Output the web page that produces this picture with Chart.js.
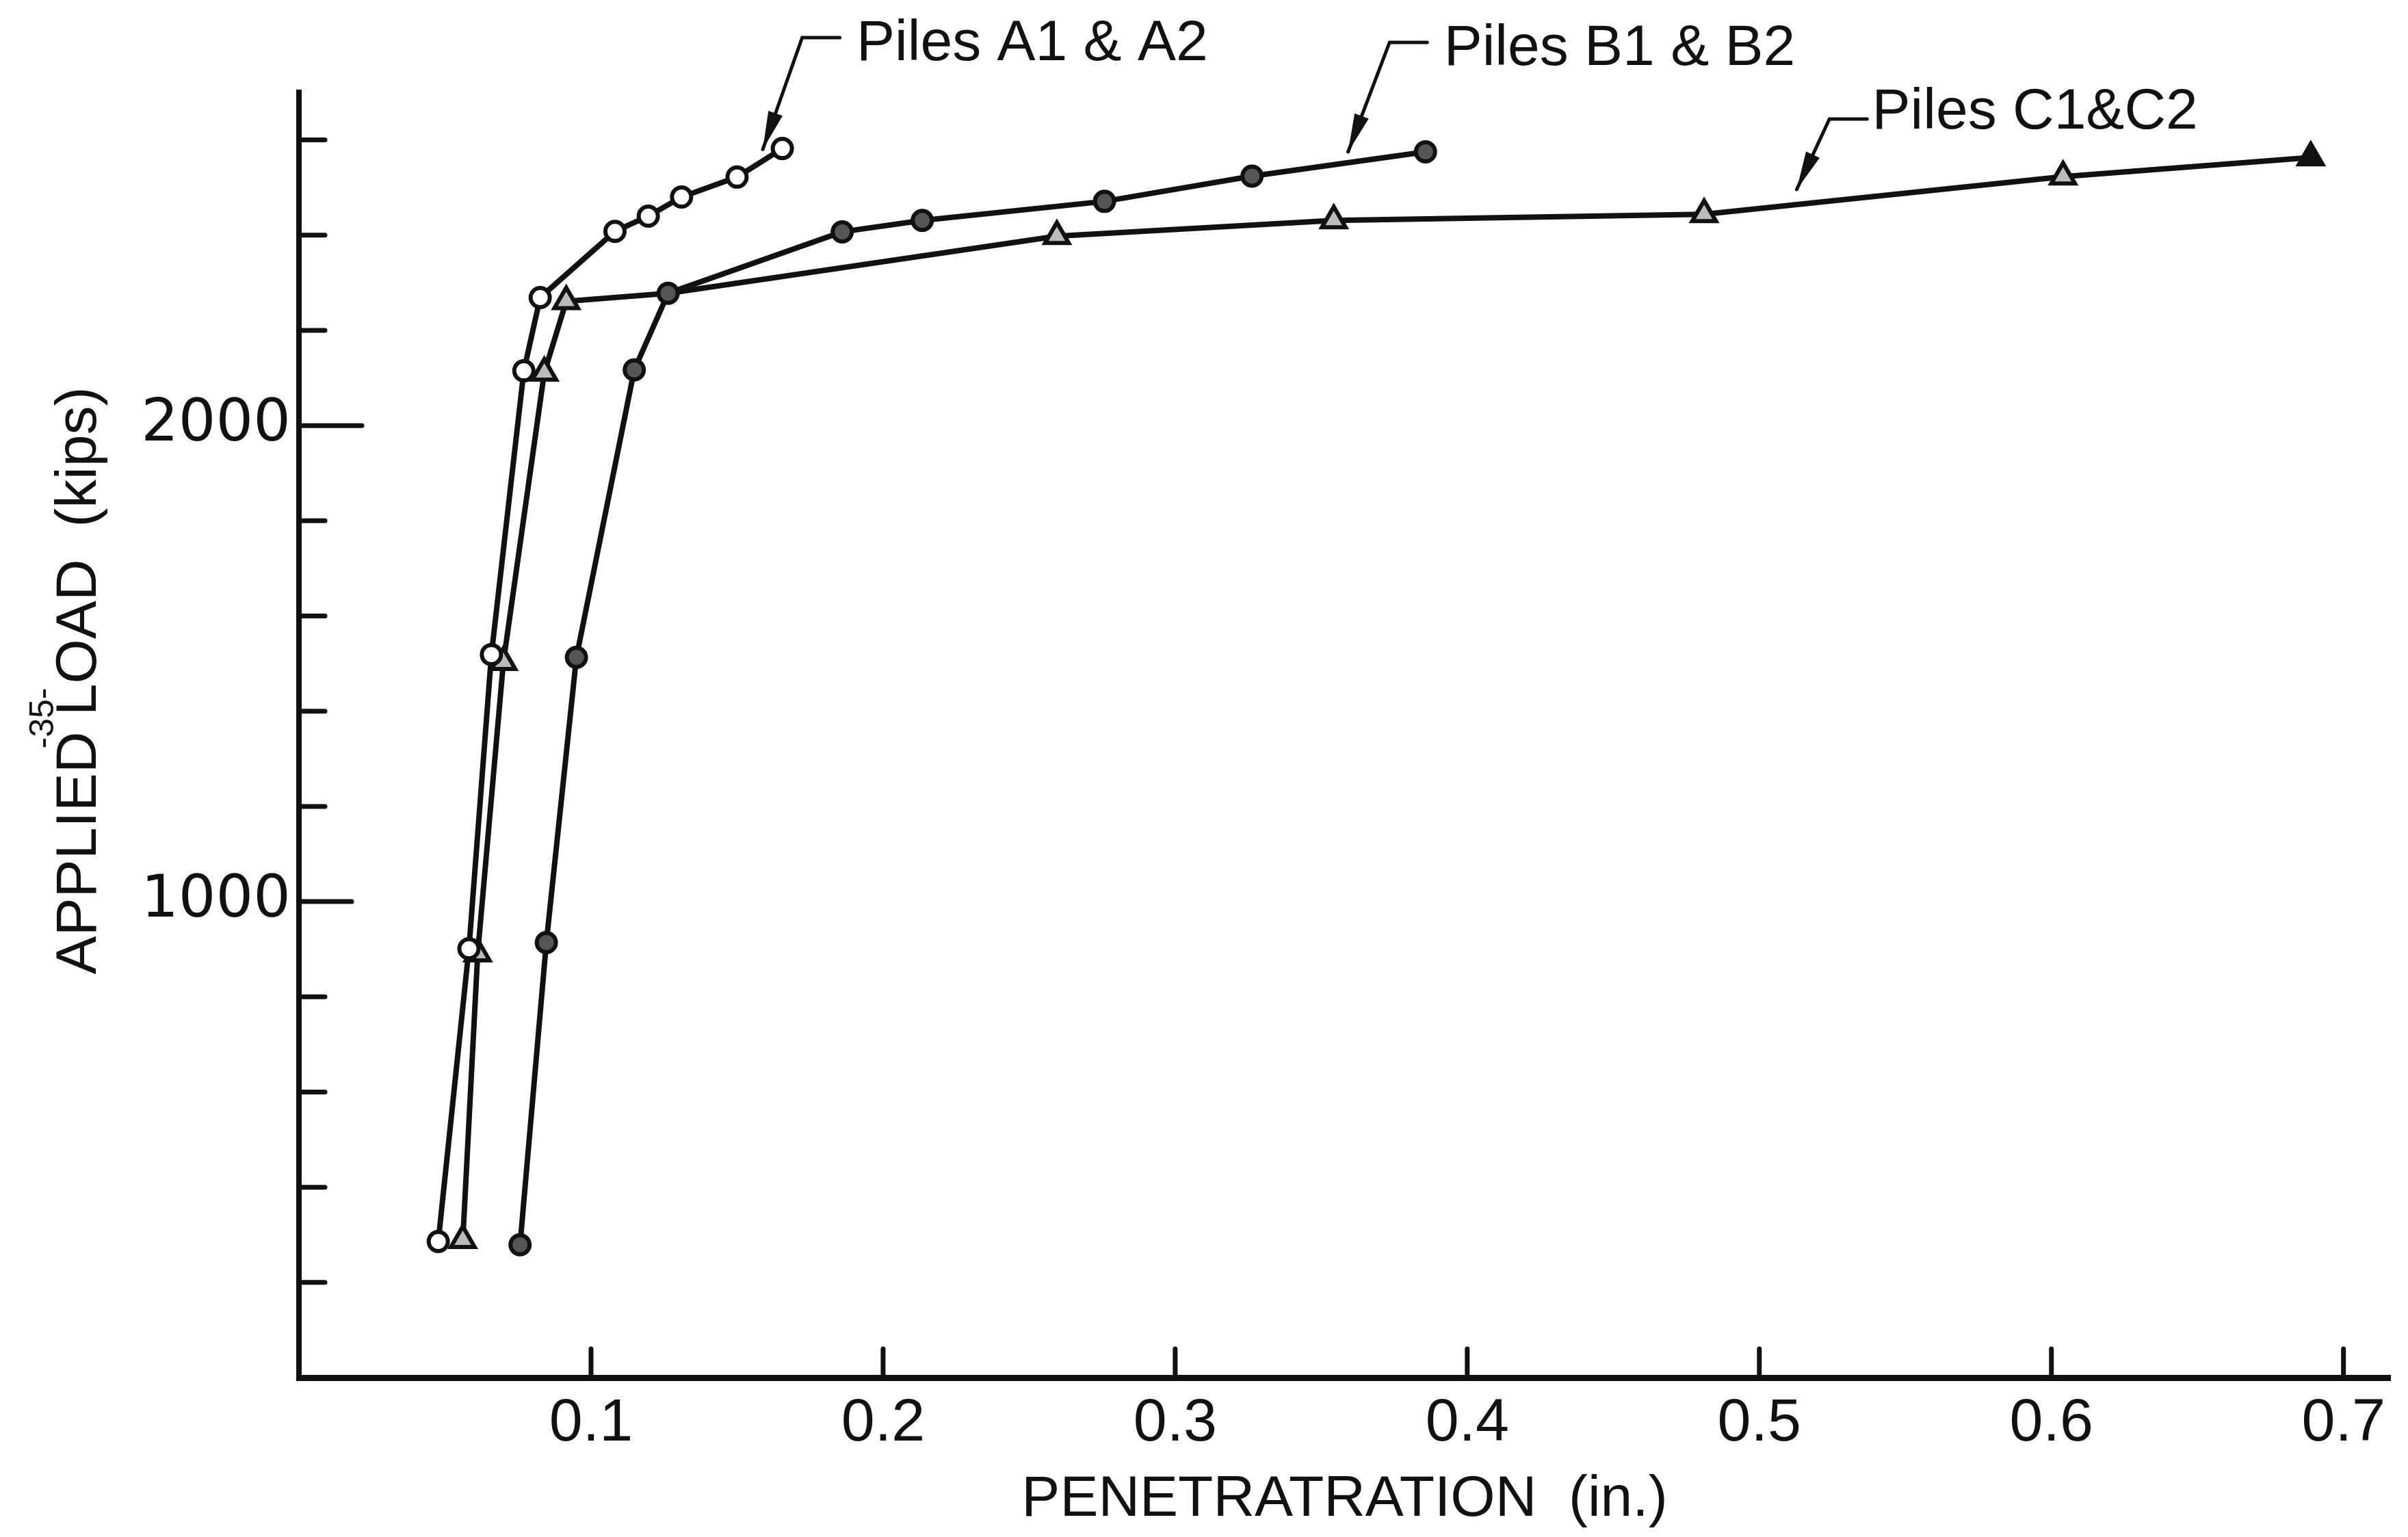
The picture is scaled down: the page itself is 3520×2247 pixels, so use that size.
<!DOCTYPE html>
<html>
<head>
<meta charset="utf-8">
<script src="https://cdn.jsdelivr.net/npm/chart.js@4.4.1/dist/chart.umd.min.js"></script>
<style>
  html, body { margin: 0; padding: 0; background: #fff; }
  #wrap { width: 3520px; height: 2247px; position: relative; }
</style>
</head>
<body>
<div id="wrap"><canvas id="load-chart"></canvas></div>
<script>
// penetration (in.) vs applied load (kips)
const pileAX = [0.0477, 0.0582, 0.0659, 0.077, 0.0826, 0.1082, 0.1196, 0.131, 0.150, 0.1655];
const pileAY = [286, 901, 1519, 2115, 2269, 2408, 2440, 2480, 2522, 2582];

const pileBX = [0.0757, 0.0847, 0.095, 0.1148, 0.1264, 0.186, 0.2134, 0.2758, 0.3263, 0.3857];
const pileBY = [279, 914, 1513, 2117, 2278, 2407, 2431, 2471, 2524, 2575];

const pileCX = [0.0561, 0.0612, 0.070, 0.084, 0.0915, 0.1264, 0.2595, 0.3543, 0.4811, 0.6040, 0.6888];
const pileCY = [289, 891, 1503, 2111, 2261, 2278, 2398, 2431, 2444, 2523, 2563];

const seriesNames = ['Piles A1 & A2', 'Piles B1 & B2', 'Piles C1&C2'];

const yTicks = [200, 400, 600, 800, 1000, 1200, 1400, 1600, 1800, 2000, 2200, 2400, 2600];
const yTickLabels = ['1000', '2000'];
const xTicks = [0.1, 0.2, 0.3, 0.4, 0.5, 0.6, 0.7];
const xTickLabels = ['0.1', '0.2', '0.3', '0.4', '0.5', '0.6', '0.7'];

// callout leaders: arrow tip, elbow and text start, in data units
const notes = [
  { text: seriesNames[0], tip: [0.1588, 2580], elbow: [0.1723, 2815], at: [0.1909, 2768] },
  { text: seriesNames[1], tip: [0.3592, 2575], elbow: [0.3734, 2805], at: [0.392, 2757] },
  { text: seriesNames[2], tip: [0.5128, 2496], elbow: [0.524, 2644], at: [0.5386, 2624] },
];

const ink = '#111';
const sans = '"Liberation Sans", Arial, sans-serif';

const toPoints = (xs, ys) => xs.map((x, i) => ({ x: x, y: ys[i] }));

const paperMarks = {
  id: 'paperMarks',
  afterDraw(chart) {
    const { ctx, chartArea, scales: { x, y } } = chart;
    ctx.save();
    ctx.strokeStyle = ink;
    ctx.fillStyle = ink;
    ctx.lineCap = 'round';
    ctx.lineWidth = 7;

    // ticks drawn inside the frame
    yTicks.forEach(v => {
      const py = y.getPixelForValue(v);
      const len = v === 2000 ? 92 : v === 1000 ? 77 : 38;
      ctx.beginPath();
      ctx.moveTo(chartArea.left, py);
      ctx.lineTo(chartArea.left + len, py);
      ctx.stroke();
    });
    xTicks.forEach(v => {
      const px = x.getPixelForValue(v);
      ctx.beginPath();
      ctx.moveTo(px, chartArea.bottom);
      ctx.lineTo(px, chartArea.bottom - 42);
      ctx.stroke();
    });

    // callouts
    ctx.lineWidth = 5;
    ctx.font = '84px ' + sans;
    ctx.textAlign = 'left';
    ctx.textBaseline = 'alphabetic';
    notes.forEach(n => {
      const tx = x.getPixelForValue(n.tip[0]), ty = y.getPixelForValue(n.tip[1]);
      const ex = x.getPixelForValue(n.elbow[0]), ey = y.getPixelForValue(n.elbow[1]);
      ctx.beginPath();
      ctx.moveTo(ex + 55, ey);
      ctx.lineTo(ex, ey);
      ctx.lineTo(tx, ty);
      ctx.stroke();
      const dx = tx - ex, dy = ty - ey, d = Math.hypot(dx, dy);
      const ux = dx / d, uy = dy / d;
      const bx = tx - ux * 56, by = ty - uy * 56;
      ctx.beginPath();
      ctx.moveTo(tx, ty);
      ctx.lineTo(bx - uy * 11, by + ux * 11);
      ctx.lineTo(bx + uy * 11, by - ux * 11);
      ctx.closePath();
      ctx.fill();
      ctx.fillText(n.text, x.getPixelForValue(n.at[0]), y.getPixelForValue(n.at[1]));
    });

    // y axis title, set a little above the middle as on the sheet
    ctx.save();
    ctx.translate(117, 995);
    ctx.rotate(-Math.PI / 2);
    ctx.font = '84px ' + sans;
    ctx.textAlign = 'center';
    ctx.textBaseline = 'middle';
    ctx.fillText('APPLIED LOAD  (kips)', 0, 0);
    ctx.restore();

    // page number in the margin
    ctx.translate(64, 1050);
    ctx.rotate(-Math.PI / 2);
    ctx.font = '50px ' + sans;
    ctx.textAlign = 'center';
    ctx.textBaseline = 'middle';
    ctx.fillText('-35-', 0, 0);
    ctx.restore();
  }
};

const ctx = document.getElementById('load-chart').getContext('2d');
const loadChart = new Chart(ctx, {
  type: 'scatter',
  data: {
    datasets: [
      {
        label: seriesNames[0],
        data: toPoints(pileAX, pileAY),
        showLine: true,
        borderColor: ink,
        borderWidth: 8,
        pointStyle: 'circle',
        pointRadius: 14,
        pointBorderWidth: 6,
        pointBorderColor: ink,
        pointBackgroundColor: '#fff',
      },
      {
        label: seriesNames[1],
        data: toPoints(pileBX, pileBY),
        showLine: true,
        borderColor: ink,
        borderWidth: 8,
        pointStyle: 'circle',
        pointRadius: 14,
        pointBorderWidth: 6,
        pointBorderColor: ink,
        pointBackgroundColor: '#555',
      },
      {
        label: seriesNames[2],
        data: toPoints(pileCX, pileCY),
        showLine: true,
        borderColor: ink,
        borderWidth: 8,
        pointStyle: 'triangle',
        // shared point with B is drawn by the B marker
        pointRadius: c => c.dataIndex === 5 ? 0 : 20,
        pointBorderWidth: 6,
        pointBorderColor: ink,
        pointBackgroundColor: c => c.dataIndex === pileCX.length - 1 ? ink : '#bbb',
      },
    ],
  },
  options: {
    responsive: true,
    maintainAspectRatio: false,
    animation: false,
    events: [],
    layout: { padding: { top: 135, right: 8, bottom: 0, left: 0 } },
    plugins: {
      legend: { display: false },
      tooltip: { enabled: false },
    },
    scales: {
      x: {
        type: 'linear',
        position: 'bottom',
        min: 0,
        max: 0.716,
        grid: { display: false, drawTicks: false },
        border: { display: true, color: ink, width: 9 },
        ticks: {
          stepSize: 0.1,
          includeBounds: false,
          autoSkip: false,
          maxRotation: 0,
          padding: 15,
          color: ink,
          font: { family: sans, size: 88 },
          callback: v => {
            const s = v.toFixed(1);
            return Math.abs(v - Number(s)) < 1e-6 && xTickLabels.includes(s) ? s : '';
          },
        },
        title: {
          display: true,
          text: 'PENETRATRATION  (in.)',
          color: ink,
          font: { family: sans, size: 84 },
          padding: { top: 0, bottom: 4 },
        },
        afterFit: s => { s.height = 233; },
      },
      y: {
        type: 'linear',
        min: 0,
        max: 2700,
        grid: { display: false, drawTicks: false },
        border: { display: true, color: ink, width: 8 },
        ticks: {
          stepSize: 200,
          includeBounds: false,
          autoSkip: false,
          padding: 12,
          color: ink,
          font: { family: '"DejaVu Sans", sans-serif', size: 86 },
          callback: v => yTickLabels.includes(String(v)) ? String(v) : '',
        },
        title: { display: false },
        afterFit: s => { s.width = 437; },
      },
    },
  },
  plugins: [paperMarks],
});
</script>
</body>
</html>
